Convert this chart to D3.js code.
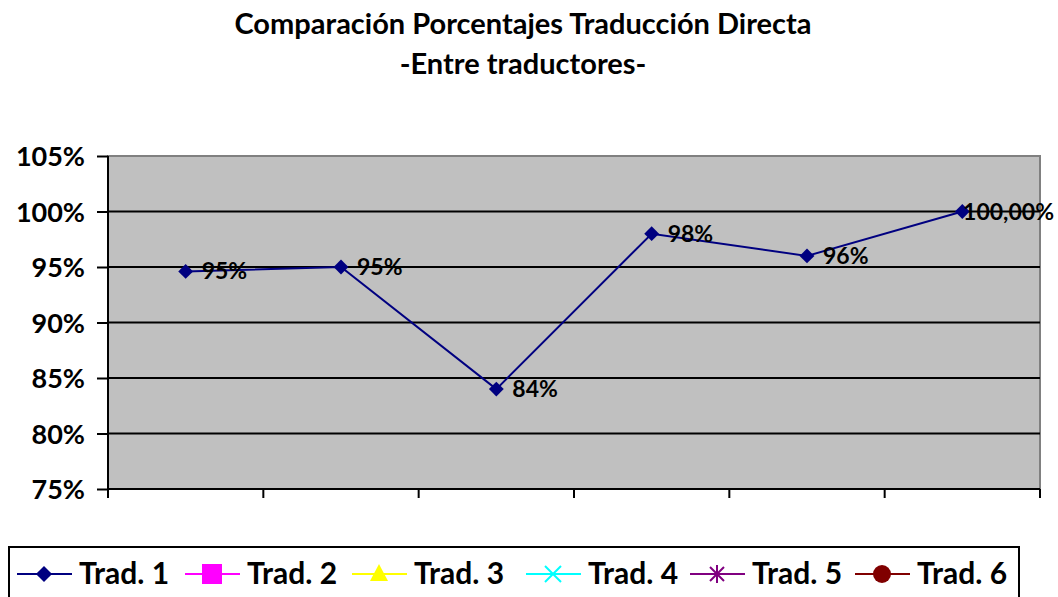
<!DOCTYPE html>
<html>
<head>
<meta charset="utf-8">
<script src="https://cdn.jsdelivr.net/npm/d3@7"></script>
<style>
  body { margin: 0; background: #fff; }
  svg text { font-family: Lato, "Open Sans", sans-serif; font-weight: bold; }
</style>
</head>
<body>
<svg id="chart" width="1058" height="597"></svg>
<script>
  // Data
  var categories = ['1', '2', '3', '4', '5', '6']
  var trad1 = [0.946, 0.95, 0.84, 0.98, 0.96, 1.0]
  var pointLabels = ['95%', '95%', '84%', '98%', '96%', '100,00%']
  var yTicks = [0.75, 0.80, 0.85, 0.90, 0.95, 1.00, 1.05]
  var seriesNames = ['Trad. 1', 'Trad. 2', 'Trad. 3', 'Trad. 4', 'Trad. 5', 'Trad. 6']
  var seriesColors = ['#000080', '#FF00FF', '#FFFF00', '#00FFFF', '#800080', '#800000']
  var seriesMarkers = ['diamond', 'square', 'triangle', 'x', 'star', 'circle']

  ;(function () {
    var svg = d3.select('#chart')
    var pLeft = 108, pRight = 1040, pTop = 156, pBottom = 489

    var x = d3.scaleBand().domain(categories).range([pLeft, pRight])
    var y = d3.scaleLinear().domain([0.75, 1.05]).range([pBottom, pTop])

    // Title
    svg.append('text').attr('x', 523).attr('y', 34).attr('text-anchor', 'middle')
      .style('font-size', '29px').text('Comparación Porcentajes Traducción Directa')
    svg.append('text').attr('x', 523).attr('y', 74).attr('text-anchor', 'middle')
      .style('font-size', '29px').text('-Entre traductores-')

    // Plot area
    svg.append('rect').attr('x', pLeft).attr('y', pTop)
      .attr('width', pRight - pLeft).attr('height', pBottom - pTop)
      .attr('fill', '#C0C0C0').attr('stroke', '#808080').attr('stroke-width', 2)

    // Gridlines
    svg.append('g').selectAll('line').data(yTicks.slice(1, -1)).enter().append('line')
      .attr('x1', pLeft).attr('x2', pRight)
      .attr('y1', function (d) { return y(d) }).attr('y2', function (d) { return y(d) })
      .attr('stroke', '#000').attr('stroke-width', 2)

    // Y axis
    var yAxis = d3.axisLeft(y).tickValues(yTicks).tickSize(11).tickPadding(12)
      .tickFormat(function (d) { return Math.round(d * 100) + '%' })
    var gy = svg.append('g').attr('transform', 'translate(' + pLeft + ',0)').call(yAxis)
    gy.selectAll('line, path').attr('stroke', '#000').attr('stroke-width', 2)
    gy.select('path').attr('d', 'M0,' + pTop + 'V' + pBottom)
    gy.selectAll('text').style('font-size', '27px').attr('fill', '#000').attr('dy', '0.36em')

    // X axis (ticks at band edges)
    var xEdges = categories.map(function (c) { return x(c) }).concat([pRight])
    var gx = svg.append('g')
    gx.append('line').attr('x1', pLeft).attr('x2', pRight).attr('y1', pBottom).attr('y2', pBottom)
      .attr('stroke', '#000').attr('stroke-width', 2)
    gx.selectAll('.tk').data(xEdges).enter().append('line')
      .attr('x1', function (d) { return d }).attr('x2', function (d) { return d })
      .attr('y1', pBottom).attr('y2', pBottom + 9)
      .attr('stroke', '#000').attr('stroke-width', 2)

    // Series line
    var cx = function (d, i) { return x(categories[i]) + x.bandwidth() / 2 }
    var line = d3.line().x(cx).y(function (d) { return y(d) })
    svg.append('path').datum(trad1).attr('d', line)
      .attr('fill', 'none').attr('stroke', seriesColors[0]).attr('stroke-width', 2)

    svg.append('g').selectAll('path').data(trad1).enter().append('path')
      .attr('transform', function (d, i) { return 'translate(' + cx(d, i) + ',' + y(d) + ') rotate(45)' })
      .attr('d', d3.symbol(d3.symbolSquare, 110)())
      .attr('fill', seriesColors[0])

    // Data labels; keep the last one inside the picture
    svg.append('g').selectAll('text').data(trad1).enter().append('text')
      .attr('x', function (d, i) { return cx(d, i) + 16 })
      .attr('y', function (d) { return y(d) + 8 })
      .style('font-size', '23px').attr('fill', '#000')
      .text(function (d, i) { return pointLabels[i] })
      .each(function () {
        var el = d3.select(this)
        var w = this.getComputedTextLength()
        var lx = +el.attr('x')
        if (lx + w > 1054) el.attr('x', 1054 - w)
      })

    // Legend
    svg.append('rect').attr('x', 9).attr('y', 547).attr('width', 1010).attr('height', 60)
      .attr('fill', '#fff').attr('stroke', '#000').attr('stroke-width', 2)
    var legendX = [17, 185, 352, 526, 690, 855]
    var lg = svg.append('g').selectAll('g').data(seriesNames).enter().append('g')
      .attr('transform', function (d, i) { return 'translate(' + legendX[i] + ',574)' })
    lg.append('line').attr('x1', 0).attr('x2', 55).attr('y1', 0).attr('y2', 0)
      .attr('stroke', function (d, i) { return seriesColors[i] }).attr('stroke-width', 2)
    lg.each(function (d, i) {
      var g = d3.select(this)
      var t = seriesMarkers[i]
      var c = seriesColors[i]
      if (t === 'diamond') {
        g.append('path').attr('transform', 'translate(27,0) rotate(45)')
          .attr('d', d3.symbol(d3.symbolSquare, 130)()).attr('fill', c)
      } else if (t === 'square') {
        g.append('rect').attr('x', 17).attr('y', -10).attr('width', 20).attr('height', 20).attr('fill', c)
      } else if (t === 'x') {
        g.append('path').attr('transform', 'translate(27,0)')
          .attr('d', 'M-8,-8L8,8M-8,8L8,-8').attr('stroke', c).attr('stroke-width', 2)
      } else if (t === 'star') {
        g.append('path').attr('transform', 'translate(27,0)')
          .attr('d', 'M-7,-7L7,7M-7,7L7,-7M0,-9L0,9').attr('stroke', c).attr('stroke-width', 2)
      } else if (t === 'triangle') {
        g.append('path').attr('transform', 'translate(27,-1)')
          .attr('d', 'M0,-9L9,8L-9,8Z').attr('fill', c)
      } else {
        g.append('circle').attr('cx', 27).attr('r', 9).attr('fill', c)
      }
    })
    lg.append('text').attr('x', 62).attr('y', 10).style('font-size', '30px').attr('fill', '#000')
      .text(function (d) { return d })
  })()
</script>
</body>
</html>
